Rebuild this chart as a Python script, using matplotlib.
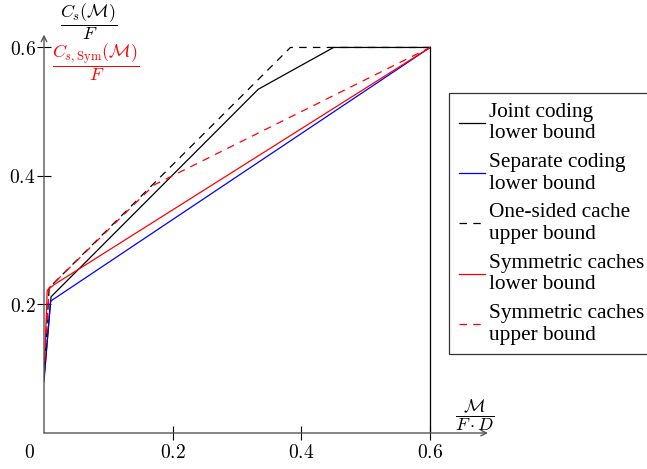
import matplotlib
matplotlib.use("Agg")
import matplotlib.pyplot as plt
from matplotlib.lines import Line2D

plt.rcParams['mathtext.fontset'] = 'cm'

# data
joint_x = [0, 0.011, 0.333, 0.45, 0.6]
joint_y = [0.085, 0.212, 0.535, 0.6, 0.6]

sep_x = [0, 0.01, 0.6]
sep_y = [0.08, 0.205, 0.6]

onesided_x = [0, 0.008, 0.383, 0.6]
onesided_y = [0.085, 0.226, 0.6, 0.6]

symlow_x = [0, 0.005, 0.016, 0.6]
symlow_y = [0.087, 0.222, 0.231, 0.6]

symup_x = [0, 0.008, 0.171, 0.6]
symup_y = [0.09, 0.226, 0.386, 0.6]

cap_x = [0.6, 0.6]
cap_y = [0, 0.6]

xticks = [0.2, 0.4, 0.6]
yticks = [0.2, 0.4, 0.6]

labels = ["Joint coding\nlower bound", "Separate coding\nlower bound",
          "One-sided cache\nupper bound", "Symmetric caches\nlower bound",
          "Symmetric caches\nupper bound"]

W, H = 647, 469
fig = plt.figure(figsize=(W / 100, H / 100), dpi=100)
ax = fig.add_axes([44 / W, 36 / H, 444 / W, 398.4 / H])
ax.set_xlim(0, 0.69)
ax.set_ylim(0, 0.62)

lw = 0.9
dash = (0, (6, 5))
ax.plot(joint_x, joint_y, color='black', lw=lw)
ax.plot(sep_x, sep_y, color='blue', lw=lw)
ax.plot(symlow_x, symlow_y, color='red', lw=lw)
ax.plot(onesided_x, onesided_y, color='black', lw=lw, linestyle=dash)
ax.plot(symup_x, symup_y, color='red', lw=lw, linestyle=dash)
ax.plot(cap_x, cap_y, color='black', lw=lw)

# axis lines with arrows
for s in ax.spines.values():
    s.set_visible(False)
axc = '#555555'
ax.annotate('', xy=(1, 0), xytext=(0, 0), xycoords='axes fraction',
            arrowprops=dict(arrowstyle='->', color=axc, lw=1.0, shrinkA=0, shrinkB=0))
ax.annotate('', xy=(0, 1), xytext=(0, 0), xycoords='axes fraction',
            arrowprops=dict(arrowstyle='->', color=axc, lw=1.0, shrinkA=0, shrinkB=0))

ax.set_xticks(xticks)
ax.set_xticklabels([f'${t}$' for t in xticks])
ax.set_yticks(yticks)
ax.set_yticklabels([f'${t}$' for t in yticks])
ax.tick_params(direction='inout', length=10, width=0.8, color='black', labelsize=14)
ax.tick_params(axis='y', pad=1)
ax.tick_params(axis='x', pad=2)
ax.text(-0.022, -0.016, '$0$', fontsize=14, ha='center', va='top')

# axis labels
ax.text(0.069, 0.64, r'$\dfrac{C_s(\mathcal{M})}{F}$', fontsize=13, ha='center', va='center')
ax.text(0.081, 0.577, r'$\dfrac{C_{s,\mathrm{Sym}}(\mathcal{M})}{F}$', fontsize=13,
        ha='center', va='center', color='red')
ax.text(0.67, 0.027, r'$\dfrac{\mathcal{M}}{F\cdot D}$', fontsize=13, ha='center', va='center')

handles = [Line2D([], [], color='black', lw=lw),
           Line2D([], [], color='blue', lw=lw),
           Line2D([], [], color='black', lw=lw, linestyle=dash),
           Line2D([], [], color='red', lw=lw),
           Line2D([], [], color='red', lw=lw, linestyle=dash)]
leg = fig.legend(handles, labels, loc='upper left', bbox_to_anchor=(449 / W, 1 - 93 / H),
                 prop={'family': 'Liberation Serif', 'size': 15.3}, frameon=True,
                 fancybox=False, edgecolor='black', handlelength=1.25, handletextpad=0.2,
                 labelspacing=0.45, borderpad=0.45, borderaxespad=0)
leg.get_frame().set_linewidth(0.9)
for t in leg.get_texts():
    t.set_linespacing(1.2)

fig.savefig('out.png', dpi=100)
